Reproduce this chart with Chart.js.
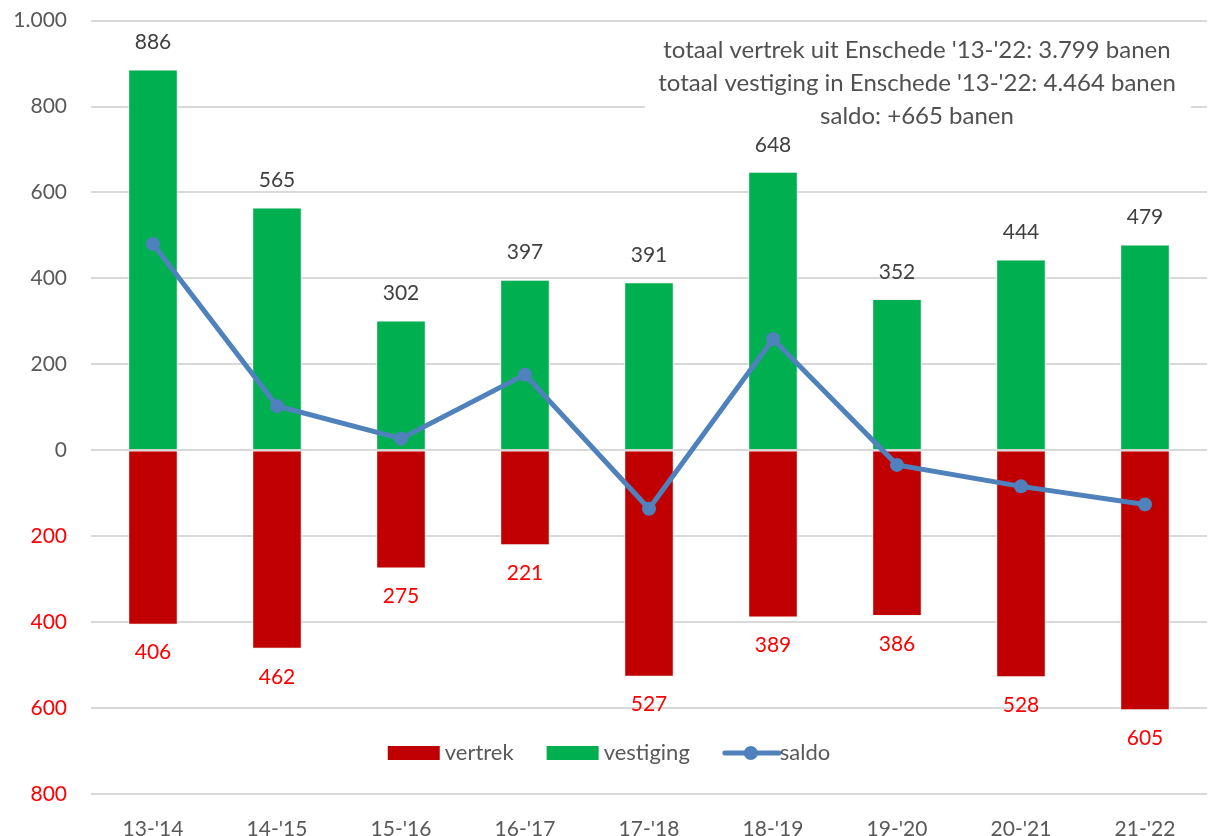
<!DOCTYPE html>
<html>
<head>
<meta charset="utf-8">
<script src="https://cdn.jsdelivr.net/npm/chart.js@4/dist/chart.umd.min.js"></script>
<style>
  html, body { margin: 0; padding: 0; background: #fff; overflow: hidden; }
  #wrap { width: 1214px; height: 852px; margin-top: -16px; }
</style>
</head>
<body>
<div id="wrap"><canvas id="chart" width="1214" height="852"></canvas></div>
<script>
// ── Data ────────────────────────────────────────────────
const periods = ["13-'14", "14-'15", "15-'16", "16-'17", "17-'18", "18-'19", "19-'20", "20-'21", "21-'22"];
const vestiging = [886, 565, 302, 397, 391, 648, 352, 444, 479];
const vertrek = [-406, -462, -275, -221, -527, -389, -386, -528, -605];
const saldo = [480, 103, 27, 176, -136, 259, -34, -84, -126];
const yTicks = [-800, -600, -400, -200, 0, 200, 400, 600, 800, 1000];
const noteLines = [
  "totaal vertrek uit Enschede '13-'22: 3.799 banen",
  "totaal vestiging in Enschede '13-'22: 4.464 banen",
  'saldo: +665 banen',
];

const FONT = 'Lato, "Open Sans", sans-serif';
const GREY = '#595959';
const RED = '#C00000';
const GREEN = '#00B050';
const BLUE = '#4F81BD';

const fmt = v => Math.abs(v).toLocaleString('nl-NL');

// ── Value labels, note box and legend ──────────────────
const extras = {
  id: 'extras',
  beforeDatasetsDraw(chart) {
    const { ctx, chartArea } = chart;
    const top = chartArea.top; // the 1.000 line
    ctx.save();
    ctx.fillStyle = '#fff';
    ctx.fillRect(645, top + 9, 546, 102);
    ctx.fillStyle = '#505050';
    ctx.font = '24px ' + FONT;
    ctx.textAlign = 'center';
    ctx.textBaseline = 'middle';
    noteLines.forEach((t, i) => ctx.fillText(t, 917, top + 30 + i * 33));
    ctx.restore();
  },
  afterDatasetsDraw(chart) {
    const { ctx, chartArea } = chart;
    ctx.save();
    ctx.font = '21px ' + FONT;
    ctx.textAlign = 'center';
    ctx.textBaseline = 'middle';
    chart.getDatasetMeta(1).data.forEach((bar, i) => {
      ctx.fillStyle = '#404040';
      ctx.fillText(fmt(vestiging[i]), bar.x, bar.y - 27);
    });
    chart.getDatasetMeta(0).data.forEach((bar, i) => {
      ctx.fillStyle = '#FF0000';
      ctx.fillText(fmt(vertrek[i]), bar.x, bar.y + 28);
    });

    // legend
    ctx.font = '22px ' + FONT;
    const ly = chartArea.bottom - 41;
    const items = [
      { label: 'vertrek', color: RED, kind: 'box' },
      { label: 'vestiging', color: GREEN, kind: 'box' },
      { label: 'saldo', color: BLUE, kind: 'line' },
    ];
    const sym = 52, gap = 5, between = 33;
    let total = 0;
    items.forEach((it, i) => {
      it.w = ctx.measureText(it.label).width;
      total += sym + gap + it.w + (i ? between : 0);
    });
    let x = 609 - total / 2;
    ctx.textAlign = 'left';
    items.forEach(it => {
      if (it.kind === 'box') {
        ctx.fillStyle = it.color;
        ctx.fillRect(x, ly - 7, sym, 14);
      } else {
        ctx.strokeStyle = it.color;
        ctx.lineWidth = 5;
        ctx.lineCap = 'round';
        ctx.beginPath();
        ctx.moveTo(x + 2, ly);
        ctx.lineTo(x + sym + 4, ly);
        ctx.stroke();
        ctx.fillStyle = it.color;
        ctx.beginPath();
        ctx.arc(x + sym / 2 + 2, ly, 7, 0, Math.PI * 2);
        ctx.fill();
      }
      ctx.fillStyle = GREY;
      ctx.fillText(it.label, x + sym + gap, ly);
      x += sym + gap + it.w + between;
    });
    ctx.restore();
  },
};

new Chart(document.getElementById('chart'), {
  data: {
    labels: periods,
    datasets: [
      {
        type: 'bar', label: 'vertrek', data: vertrek, order: 2,
        backgroundColor: RED, borderColor: '#F2F2F2', borderWidth: 1,
        barPercentage: 0.4, categoryPercentage: 1, stack: 'bars',
      },
      {
        type: 'bar', label: 'vestiging', data: vestiging, order: 2,
        backgroundColor: GREEN, borderColor: '#F2F2F2', borderWidth: 1,
        barPercentage: 0.4, categoryPercentage: 1, stack: 'bars',
      },
      {
        type: 'line', label: 'saldo', data: saldo, order: 1, stack: 'line',
        borderColor: BLUE, backgroundColor: BLUE, borderWidth: 5,
        pointRadius: 7, pointBorderWidth: 0, pointBackgroundColor: BLUE,
        tension: 0,
      },
    ],
  },
  plugins: [extras],
  options: {
    responsive: false,
    devicePixelRatio: 1,
    animation: false,
    layout: { padding: { top: 3, left: 0, right: 0, bottom: 0 } },
    plugins: { legend: { display: false }, tooltip: { enabled: false } },
    scales: {
      x: {
        stacked: true,
        grid: { display: false },
        border: { display: false },
        ticks: { color: GREY, font: { family: FONT, size: 21 }, padding: 15 },
        afterFit(scale) { scale.height = 42; },
      },
      y: {
        stacked: true,
        min: -800, max: 1000,
        afterBuildTicks(scale) { scale.ticks = yTicks.map(v => ({ value: v })); },
        grid: { color: '#D9D9D9', lineWidth: 2, drawTicks: false },
        border: { display: false },
        ticks: {
          padding: 24,
          font: { family: FONT, size: 21 },
          color: c => (c.tick && c.tick.value < 0 ? '#FF0000' : GREY),
          callback: v => fmt(v),
        },
        afterFit(scale) { scale.width = 91; },
      },
    },
  },
});
</script>
</body>
</html>
